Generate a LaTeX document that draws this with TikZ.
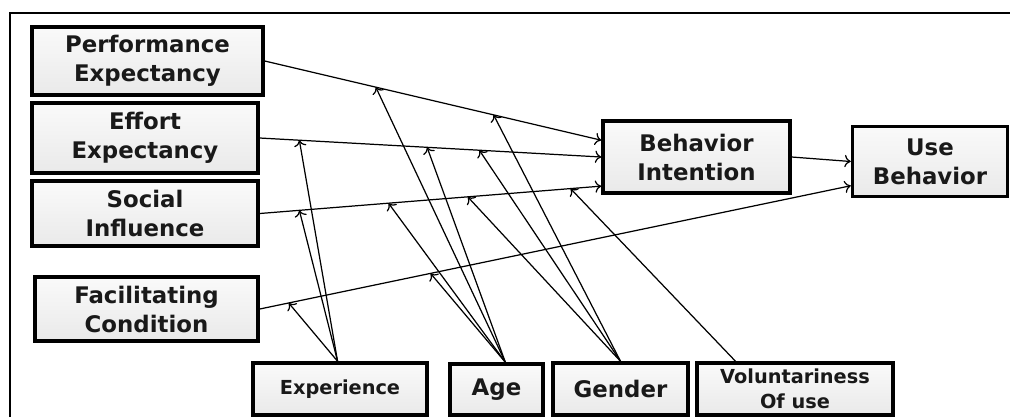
\documentclass[tikz,border=0pt]{standalone}
\usepackage{fontspec}
\setmainfont{DejaVu Sans}
\usetikzlibrary{arrows.meta}
\begin{document}
\begin{tikzpicture}[x=0.02cm, y=-0.02cm, every node/.style={font=\bfseries\fontsize{13}{16.5}\selectfont, text=black!90}]
  \tikzstyle{b}=[draw=black,line width=2pt,align=center,inner sep=0pt,top color=gray!4,bottom color=gray!17]
  \tikzstyle{sm}=[font=\bfseries\fontsize{11}{14}\selectfont]
  \tikzstyle{a}=[-{To[length=3.5pt,width=7pt]},line width=0.7pt]
  \useasboundingbox (0,0) rectangle (1010,417);
  % frame (cut at right and bottom)
  \draw[line width=1.5pt] (10,417) -- (10,13) -- (1010,13);
  % constructs
  \node[b,minimum width=4.62cm,minimum height=1.36cm] (pe) at (147.5,61) {Performance\\Expectancy};
  \node[b,minimum width=4.52cm,minimum height=1.40cm] (ee) at (145,138) {Effort\\Expectancy};
  \node[b,minimum width=4.52cm,minimum height=1.30cm] (si) at (145,213.5) {Social\\Influence};
  \node[b,minimum width=4.46cm,minimum height=1.28cm] (fc) at (146.5,309) {Facilitating\\Condition};
  \node[b,minimum width=3.74cm,minimum height=1.44cm] (bi) at (696.5,157) {Behavior\\Intention};
  \node[b,minimum width=3.10cm,minimum height=1.40cm] (ub) at (930,161.5) {Use\\Behavior};
  % moderators
  \node[b,sm,minimum width=3.48cm,minimum height=1.04cm] (ex) at (340,389) {Experience};
  \node[b,minimum width=1.86cm,minimum height=1.02cm] (age) at (496.5,389.5) {Age};
  \node[b,minimum width=2.70cm,minimum height=1.04cm] (gen) at (620.5,389) {Gender};
  \node[b,sm,minimum width=3.92cm,minimum height=1.04cm] (vol) at (795,389) {Voluntariness\\Of use};
  % main paths
  \draw[a] (pe.east) -- (bi.170) coordinate[pos=0.33] (pe-a) coordinate[pos=0.68] (pe-g);
  \draw[a] (ee.east) -- (bi.west) coordinate[pos=0.116] (ee-x) coordinate[pos=0.49] (ee-a) coordinate[pos=0.643] (ee-g);
  \draw[a] (si.east) -- (bi.197) coordinate[pos=0.116] (si-x) coordinate[pos=0.377] (si-a) coordinate[pos=0.609] (si-g) coordinate[pos=0.91] (si-v);
  \draw[a] (fc.east) -- (ub.197) coordinate[pos=0.049] (fc-x) coordinate[pos=0.289] (fc-a);
  \draw[a] (bi.east) -- (ub.west);
  % moderating effects
  \foreach \t in {ee-x,si-x,fc-x} \draw[a] (ex.95) -- (\t);
  \foreach \t in {pe-a,ee-a,si-a,fc-a} \draw[a] (age.72) -- (\t);
  \foreach \t in {pe-g,ee-g,si-g} \draw[a] (gen.north) -- (\t);
  \draw[a] (vol.155) -- (si-v);
\end{tikzpicture}
\end{document}
